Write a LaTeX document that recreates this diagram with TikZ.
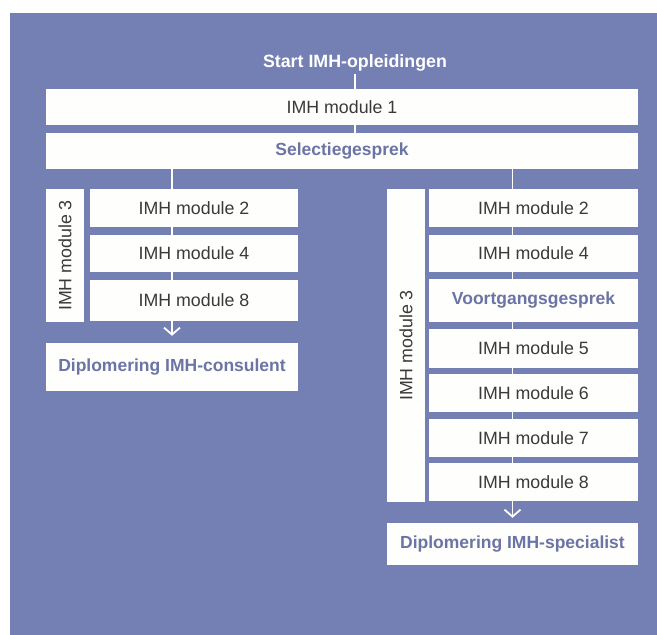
\documentclass[tikz,border=0pt]{standalone}
\usepackage{fontspec}
\setmainfont{Liberation Sans}
\usetikzlibrary{arrows.meta}
\definecolor{bgblue}{RGB}{116,127,180}
\definecolor{accent}{RGB}{108,116,166}
\definecolor{dark}{RGB}{58,58,58}
\definecolor{boxwhite}{RGB}{254,254,252}
\tikzset{
  box/.style={fill=boxwhite, inner sep=0pt, text=dark, font=\fontsize{17.8}{19}\selectfont},
  accbox/.style={box, text=accent, font=\fontsize{17.5}{19}\selectfont\bfseries},
  vbox/.style={box},
  vtext/.style={text=dark, font=\fontsize{17.8}{19}\selectfont, rotate=90, inner sep=0pt},
  conn/.style={draw=white, line width=1.1pt},
  arr/.style={draw=white, line width=1.8pt, -{Straight Barb[length=7pt,width=16pt,line width=1.8pt]}}
}
\begin{document}
\begin{tikzpicture}[x=1pt,y=-1pt]
\useasboundingbox (0,0) rectangle (657,635);
\fill[white] (0,0) rectangle (657,635);
\fill[bgblue] (10,13) rectangle (657,635);

\node[text=white, font=\fontsize{17.8}{19}\selectfont\bfseries, inner sep=2pt] (start) at (355,63) {Start IMH-opleidingen};
\node[box, minimum width=592pt, minimum height=36pt] (m1) at (342,107) {IMH module 1};
\node[accbox, minimum width=592pt, minimum height=36pt] (sel) at (342,151) {Selectiegesprek};

% left column
\node[vbox, minimum width=38pt, minimum height=133pt] (L3) at (65,255.5) {};
\node[vtext] (L3t) at (L3.center) {IMH module 3};
\node[box, minimum width=208pt, minimum height=38pt] (L2) at (194,208) {IMH module 2};
\node[box, minimum width=208pt, minimum height=37pt] (L4) at (194,253.5) {IMH module 4};
\node[box, minimum width=208pt, minimum height=41pt] (L8) at (194,300.5) {IMH module 8};
\node[accbox, minimum width=252pt, minimum height=48pt] (LD) at (172,367) {Diplomering IMH-consulent};

% right column
\node[vbox, minimum width=38pt, minimum height=313pt] (R3) at (406,345.5) {};
\node[vtext] (R3t) at (R3.center) {IMH module 3};
\node[box, minimum width=209pt, minimum height=38pt] (R2) at (533.5,208) {IMH module 2};
\node[box, minimum width=209pt, minimum height=37pt] (R4) at (533.5,253.5) {IMH module 4};
\node[accbox, minimum width=209pt, minimum height=43pt] (RV) at (533.5,300.5) {Voortgangsgesprek};
\node[box, minimum width=209pt, minimum height=39pt] (R5) at (533.5,348.5) {IMH module 5};
\node[box, minimum width=209pt, minimum height=38pt] (R6) at (533.5,393) {IMH module 6};
\node[box, minimum width=209pt, minimum height=38pt] (R7) at (533.5,438) {IMH module 7};
\node[box, minimum width=209pt, minimum height=38pt] (R8) at (533.5,482) {IMH module 8};
\node[accbox, minimum width=251pt, minimum height=42pt] (RD) at (512.5,544) {Diplomering IMH-specialist};

% connectors
\draw[conn] (start.south) -- (start.south |- m1.north);
\draw[conn] (m1.south -| start.south) -- (sel.north -| start.south);
\draw[conn] (sel.south -| LD.north) -- (L2.north -| LD.north);
\draw[conn] (L2.south -| LD.north) -- (L4.north -| LD.north);
\draw[conn] (L4.south -| LD.north) -- (L8.north -| LD.north);
\draw[arr, shorten >=7pt] (L8.south -| LD.north) -- (LD.north);

\draw[conn] (sel.south -| RD.north) -- (R2.north -| RD.north);
\draw[conn] (R2.south -| RD.north) -- (R4.north -| RD.north);
\draw[conn] (R4.south -| RD.north) -- (RV.north -| RD.north);
\draw[conn] (RV.south -| RD.north) -- (R5.north -| RD.north);
\draw[conn] (R5.south -| RD.north) -- (R6.north -| RD.north);
\draw[conn] (R6.south -| RD.north) -- (R7.north -| RD.north);
\draw[conn] (R7.south -| RD.north) -- (R8.north -| RD.north);
\draw[arr, shorten >=5pt] (R8.south -| RD.north) -- (RD.north);
\end{tikzpicture}
\end{document}
